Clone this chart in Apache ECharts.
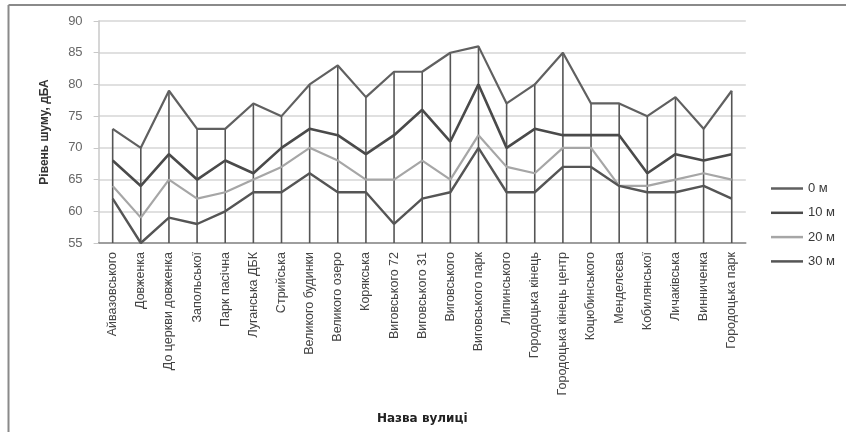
<!DOCTYPE html>
<html>
<head>
<meta charset="utf-8">
<script src="https://cdn.jsdelivr.net/npm/echarts@6/dist/echarts.min.js"></script>
<style>
html,body{margin:0;padding:0;background:#fff;}
#chart{width:846px;height:432px;}
</style>
</head>
<body>
<div id="chart"></div>
<script>
const categories = ['Айвазовського','Довженка','До церкви довженка','Запольської','Парк пасічна','Луганська ДБК','Стрийська','Великого будинки','Великого озеро','Корякська','Виговського 72','Виговського 31','Виговського','Виговського парк','Липинського','Городоцька кінець','Городоцька кінець центр','Коцюбинського','Менделєєва','Кобилянської','Личаківська','Винниченка','Городоцька парк'];
const s0 = [73,70,79,73,73,77,75,80,83,78,82,82,85,86,77,80,85,77,77,75,78,73,79];
const s10 = [68,64,69,65,68,66,70,73,72,69,72,76,71,80,70,73,72,72,72,66,69,68,69];
const s20 = [64,59,65,62,63,65,67,70,68,65,65,68,65,72,67,66,70,70,64,64,65,66,65];
const s30 = [62,55,59,58,60,63,63,66,63,63,58,62,63,70,63,63,67,67,64,63,63,64,62];
const seriesNames = ['0 м','10 м','20 м','30 м'];
const yTicks = [55,60,65,70,75,80,85,90];

const dropValues = categories.map((c,i)=>Math.max(s0[i],s10[i],s20[i],s30[i]));

const chart = echarts.init(document.getElementById('chart'), null, {renderer:'canvas'});
const font = '"Liberation Sans", "DejaVu Sans", sans-serif';
const lineSeries = (name, data, color, width) => ({
  name, type:'line', data, symbol:'none', z:3,
  lineStyle:{color, width}, itemStyle:{color}
});
chart.setOption({
  animation:false,
  backgroundColor:'#fff',
  grid:{left:98.6, right:100.2, top:21, bottom:189, containLabel:false},
  legend:{
    data:seriesNames, orient:'vertical', left:771, top:182, padding:0,
    icon:'rect', itemWidth:32, itemHeight:2.5, itemGap:11.3,
    textStyle:{fontFamily:font, fontSize:13, color:'#3a3a3a'}
  },
  xAxis:{
    type:'category', data:categories, boundaryGap:true,
    name:'Назва вулиці', nameLocation:'middle', nameGap:170,
    nameTextStyle:{fontFamily:'"DejaVu Sans", sans-serif', fontSize:12, fontWeight:'bold', color:'#222'},
    axisLine:{lineStyle:{color:'#888', width:1.5}},
    axisTick:{show:false},
    axisLabel:{rotate:90, interval:0, margin:9, fontFamily:font, fontSize:12.5, color:'#444'}
  },
  yAxis:{
    type:'value', min:yTicks[0], max:yTicks[yTicks.length-1], interval:5,
    name:'Рівень шуму, дБА', nameLocation:'middle', nameRotate:90, nameGap:48,
    nameMoveOverlap:false,
    nameTextStyle:{fontFamily:font, fontSize:12, fontWeight:'bold', color:'#333'},
    axisLine:{show:true, lineStyle:{color:'#c8c8c8', width:1.5}},
    axisTick:{show:true, length:5, lineStyle:{color:'#c8c8c8'}},
    axisLabel:{fontFamily:font, fontSize:13, color:'#666', margin:16},
    splitLine:{lineStyle:{color:'#d6d6d6', width:1.5}}
  },
  graphic:[
    {type:'line', shape:{x1:8.5,y1:5,x2:846,y2:5}, style:{stroke:'#8a8a8a', lineWidth:2}},
    {type:'line', shape:{x1:8.5,y1:5,x2:8.5,y2:432}, style:{stroke:'#8a8a8a', lineWidth:2}}
  ],
  series:[
    {name:'drop', type:'bar', data:dropValues, barWidth:1.6, silent:true, z:1,
     itemStyle:{color:'#555'}, clip:true},
    lineSeries(seriesNames[0], s0, '#606060', 2.2),
    lineSeries(seriesNames[1], s10, '#4a4a4a', 2.6),
    lineSeries(seriesNames[2], s20, '#a6a6a6', 2.2),
    lineSeries(seriesNames[3], s30, '#555555', 2.4)
  ]
});
</script>
</body>
</html>
